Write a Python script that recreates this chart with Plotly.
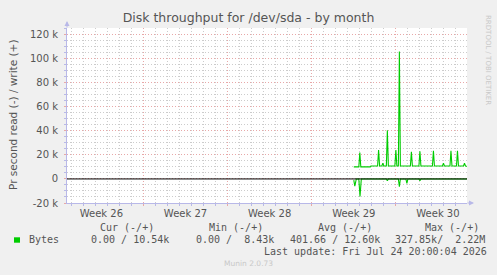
import pandas as pd
import plotly.graph_objects as go

# ---------------- data ----------------
week_starts = ["2026-06-22", "2026-06-29", "2026-07-06", "2026-07-13", "2026-07-20"]
week_labels = ["Week 26", "Week 27", "Week 28", "Week 29", "Week 30"]

data_origin = "2026-07-16 00:00"   # hours below are counted from here (2-hour samples)
write_hours = [12, 22, 24, 26, 45, 46, 59.5, 61.5, 63.5, 68, 70, 72, 77, 79, 81,
               94, 96, 98, 101, 103, 105, 125, 127, 129, 142, 144, 146, 169, 171, 173,
               189, 191, 193, 204, 206, 208, 217, 219, 221, 231, 233, 235, 238]
write_bytes = [10000, 10000, 22000, 10000, 10000, 10800, 10800, 24000, 10800, 10800, 13000, 10800, 10800, 40500, 10800,
               10800, 24000, 10800, 10800, 106000, 10800, 10800, 22500, 10800, 10800, 23000, 10800, 10800, 23500, 10800,
               10800, 13000, 10800, 10800, 23500, 10800, 10800, 23500, 10800, 10800, 13000, 10800, 10540]

read_hours = [12, 14, 17, 22, 24.4, 27, 77, 79, 81, 101, 103, 105, 116, 118, 120, 142, 144, 146, 238]
read_bytes = [-1000, -6000, 0, 0, -14500, 0, 0, -1500, 0, 0, -6500, 0, 0, -3600, 0, 0, -1500, 0, 0]

y_tickvals = [-20000, 0, 20000, 40000, 60000, 80000, 100000, 120000]
y_ticktext = ["-20 k", "0", "20 k", "40 k", "60 k", "80 k", "100 k", "120 k"]

legend_headers = ["Cur (-/+)", "Min (-/+)", "Avg (-/+)", "Max (-/+)"]
legend_values = ["0.00 / 10.54k", "0.00 /  8.43k", "401.66 / 12.60k", "327.85k/  2.22M"]
series_name = "Bytes"
last_update = "Last update: Fri Jul 24 20:00:04 2026"
title = "Disk throughput for /dev/sda - by month"
y_title = "Pr second read (-) / write (+)"

# ---------------- layout constants ----------------
W, H = 497, 275
L, R, T, B = 67, 30, 28, 72
PW, PH = W - L - R, H - T - B

def px(x):
    return (x - L) / PW

def py(y):
    return (H - B - y) / PH

GREEN = "#00CC00"
TXT = "#555555"
GRID = "#CCCCCC"
MGRID = "#E8A8A8"
AXIS = "#B8B8E8"

origin = pd.Timestamp(data_origin)
wx = [origin + pd.Timedelta(hours=h) for h in write_hours]
rx = [origin + pd.Timedelta(hours=h) for h in read_hours]

ws = [pd.Timestamp(d) for d in week_starts]
x_start = ws[0] + pd.Timedelta(days=0.64)
x_end = x_start + pd.Timedelta(days=PW / 12.02)
mid_week = [d + pd.Timedelta(days=3.5) for d in ws]

fig = go.Figure()
fig.add_trace(go.Scatter(x=rx, y=read_bytes, mode="lines",
                         line=dict(color=GREEN, width=1.1), showlegend=False, hoverinfo="skip"))
fig.add_trace(go.Scatter(x=wx, y=write_bytes, mode="lines",
                         line=dict(color=GREEN, width=1.1), showlegend=False, hoverinfo="skip"))
# carrier for the label axis
fig.add_trace(go.Scatter(x=[x_start, x_end], y=[None, None], xaxis="x2", mode="lines",
                         showlegend=False, hoverinfo="skip"))

font = "DejaVu Sans"
mono = "DejaVu Sans Mono"

fig.update_layout(
    width=W, height=H,
    margin=dict(l=L, r=R, t=T, b=B, pad=0),
    paper_bgcolor="#F0F0F0", plot_bgcolor="#FFFFFF",
    font=dict(family=font, size=10, color=TXT),
    title=dict(text=title, xref="container", x=0.5, xanchor="center",
               yref="container", y=1 - 18 / H, yanchor="middle",
               font=dict(family=font, size=12.5, color=TXT)),
    xaxis=dict(type="date", range=[x_start, x_end],
               tickvals=ws[1:], showticklabels=False,
               showgrid=True, gridcolor=MGRID, griddash="1px,2px", gridwidth=1,
               ticks="outside", ticklen=2, tickcolor=MGRID,
               minor=dict(dtick=86400000, tick0=week_starts[0], showgrid=True,
                          gridcolor=GRID, griddash="1px,2px", gridwidth=1,
                          ticks="outside", ticklen=2, tickcolor=AXIS),
               showline=True, linecolor=AXIS, linewidth=1,
               zeroline=False, fixedrange=True),
    xaxis2=dict(type="date", overlaying="x", anchor="y", side="bottom",
                range=[x_start, x_end], tickvals=mid_week, ticktext=week_labels,
                showgrid=False, zeroline=False, ticks="", showline=False,
                tickfont=dict(family=font, size=10, color=TXT), ticklabelstandoff=3),
    yaxis=dict(range=[-20000, 125500], tickvals=y_tickvals, ticktext=y_ticktext,
               showgrid=True, gridcolor=MGRID, griddash="1px,2px", gridwidth=1,
               ticks="outside", ticklen=2, tickcolor=MGRID,
               minor=dict(dtick=5000, showgrid=True, gridcolor=GRID,
                          griddash="1px,2px", gridwidth=1,
                          ticks="outside", ticklen=2, tickcolor=AXIS),
               showline=True, linecolor=AXIS, linewidth=1,
               zeroline=False, tickfont=dict(family=font, size=10, color=TXT),
               ticklabelstandoff=4, fixedrange=True),
    showlegend=False,
)

shapes = [
    # zero line drawn on top of the data, as rrdtool does
    dict(type="line", xref="paper", yref="y", x0=0, x1=1, y0=0, y1=0,
         line=dict(color="#000000", width=1), layer="above"),
    # legend colour box
    dict(type="rect", xref="paper", yref="paper", x0=px(14), x1=px(20),
         y0=py(242.7), y1=py(237.3), fillcolor=GREEN, line=dict(width=0)),
]
fig.update_layout(shapes=shapes)

ann = []
def text(t, x, y, anchor="left", size=10, fam=mono, color=TXT, angle=0):
    ann.append(dict(text=t.replace(" ", "\u00a0"), xref="paper", yref="paper",
                    x=px(x), y=py(y), xanchor=anchor, yanchor="middle",
                    showarrow=False, textangle=angle,
                    font=dict(family=fam, size=size, color=color)))

header_x = [98.3, 206.7, 315.7, 423.3]
value_x = [89.3, 194.3, 287.7, 392.7]
for t, x in zip(legend_headers, header_x):
    text(t, x, 227.5)
text(series_name, 26.7, 239.5)
for t, x in zip(legend_values, value_x):
    text(t, x, 239.5)
text(last_update, 261.7, 251.5)
text("Munin 2.0.73", 248, 263.5, anchor="center", size=7.5, fam=font, color="#C8C8C8")
text("RRDTOOL / TOBI OETIKER", 488, 60, anchor="center", size=7, fam=font, color="#C8C8C8", angle=90)
text(y_title, 13, 115, anchor="center", size=10.5, fam=font, angle=-90)

# axis arrows
ann.append(dict(text="", xref="paper", yref="paper", x=px(67), y=py(21), ax=0, ay=8,
                showarrow=True, arrowhead=2, arrowsize=1, arrowwidth=1, arrowcolor=AXIS))
ann.append(dict(text="", xref="paper", yref="paper", x=px(474), y=py(203), ax=-8, ay=0,
                showarrow=True, arrowhead=2, arrowsize=1, arrowwidth=1, arrowcolor=AXIS))
fig.update_layout(annotations=ann)

fig.write_html("out.html")
